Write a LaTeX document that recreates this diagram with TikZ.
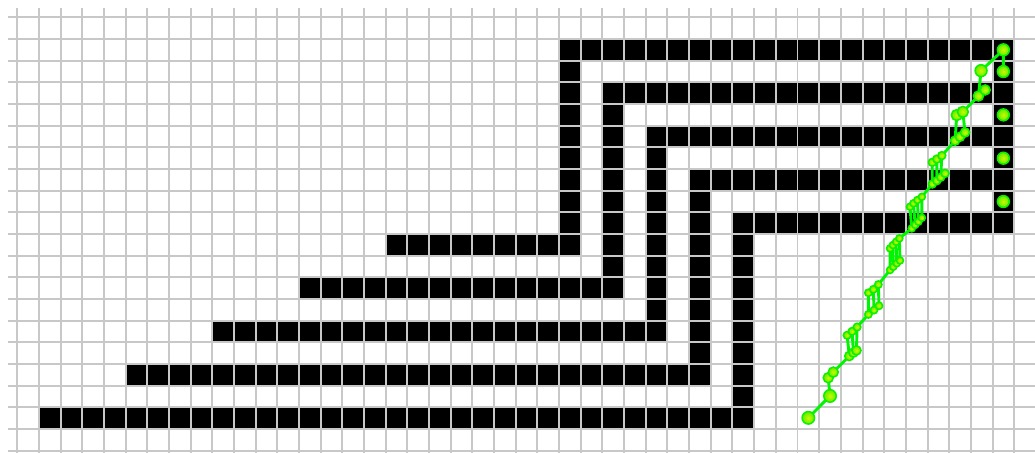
\documentclass[tikz,border=0pt]{standalone}
\definecolor{gridgray}{RGB}{200,200,200}
\definecolor{raygreen}{RGB}{0,245,0}
\definecolor{dotin}{RGB}{200,250,0}
\definecolor{dotout}{RGB}{100,235,0}
\definecolor{dotring}{RGB}{10,240,0}
\begin{document}
\begin{tikzpicture}[x=0.5cm,y=-0.5cm,
  gridline/.style={draw=gridgray,line width=1.3pt},
  cellfill/.style={fill=black},
  ray/.style={draw=raygreen,line width=1.9pt,line join=round,line cap=round},
  dotmark/.style={inner color=dotin,outer color=dotout,draw=dotring,line width=1pt}]
\useasboundingbox (-0.8,-0.8) rectangle (46.96,20.1);
\clip (-0.8,-0.8) rectangle (46.96,20.1);
% black cells
\foreach \k in {0,...,4}{
  \fill[cellfill] ({25+2*\k},{1+2*\k}) rectangle (46,{2+2*\k});
  \fill[cellfill] ({25+2*\k},{1+2*\k}) rectangle ({26+2*\k},{11+2*\k});
  \fill[cellfill] ({17-4*\k},{10+2*\k}) rectangle ({26+2*\k},{11+2*\k});
}
\fill[cellfill] (45,1) rectangle (46,10);
% grid
\foreach \i in {0,...,46} \draw[gridline] (\i,-0.43) -- (\i,21);
\foreach \j in {0,...,20} \draw[gridline] (-0.43,\j) -- (48,\j);
% ray points
\foreach \n/\x/\y in {a1/36.5/18.48, a2/37.5/17.47, a3/37.42/16.63, a4/37.65/16.37,
  c2b1/38.39/15.63, c2b2/38.58/15.47, c2b3/38.72/15.37, c2t1/38.29/14.67, c2t2/38.52/14.49, c2t3/38.75/14.29,
  c3b1/39.27/13.71, c3b2/39.53/13.51, c3b3/39.76/13.31, c3t1/39.27/12.71, c3t2/39.5/12.55, c3t3/39.73/12.33,
  c4b1/40.27/11.66, c4b2/40.42/11.51, c4b3/40.58/11.35, c4b4/40.73/11.22, c4t1/40.27/10.66, c4t2/40.4/10.51, c4t3/40.55/10.36, c4t4/40.7/10.2,
  c5b1/41.27/9.74, c5b2/41.43/9.58, c5b3/41.58/9.43, c5b4/41.74/9.25, c5t1/41.19/8.74, c5t2/41.35/8.58, c5t3/41.53/8.43, c5t4/41.74/8.28,
  c6b1/42.22/7.69, c6b2/42.43/7.54, c6b3/42.61/7.38, c6b4/42.81/7.2, c6t1/42.22/6.69, c6t2/42.43/6.54, c6t3/42.66/6.38,
  c7b1/43.27/5.69, c7b2/43.5/5.51, c7b3/43.73/5.31, c7t1/43.35/4.51, c7t2/43.63/4.36,
  c8b1/44.35/3.63, c8b2/44.66/3.35, c8t1/44.47/2.46,
  e1/45.5/1.5, e2/45.5/2.5, e3/45.5/4.5, e4/45.5/6.5, e5/45.5/8.5}
  \coordinate (\n) at (\x,\y);
% connectors
\draw[ray] (a1) -- (a2) -- (a3) -- (a4) -- (c2b1) -- (c2b2) -- (c2b3);
\draw[ray] (c2t1) -- (c2t2) -- (c2t3) -- (c3b1) -- (c3b2) -- (c3b3);
\draw[ray] (c2b1) -- (c2t1) (c2b2) -- (c2t2) (c2b3) -- (c2t3);
\draw[ray] (c3t1) -- (c3t2) -- (c3t3) -- (c4b1) -- (c4b2) -- (c4b3) -- (c4b4);
\draw[ray] (c3b1) -- (c3t1) (c3b2) -- (c3t2) (c3b3) -- (c3t3);
\draw[ray] (c4t1) -- (c4t2) -- (c4t3) -- (c4t4) -- (c5b1) -- (c5b2) -- (c5b3) -- (c5b4);
\draw[ray] (c4b1) -- (c4t1) (c4b2) -- (c4t2) (c4b3) -- (c4t3) (c4b4) -- (c4t4);
\draw[ray] (c5t1) -- (c5t2) -- (c5t3) -- (c5t4) -- (c6b1) -- (c6b2) -- (c6b3) -- (c6b4);
\draw[ray] (c5b1) -- (c5t1) (c5b2) -- (c5t2) (c5b3) -- (c5t3) (c5b4) -- (c5t4);
\draw[ray] (c6t1) -- (c6t2) -- (c6t3) -- (c7b1) -- (c7b2) -- (c7b3);
\draw[ray] (c6b1) -- (c6t1) (c6b2) -- (c6t2) (c6b3) -- (c6t3);
\draw[ray] (c7t1) -- (c7t2) -- (c8b1) -- (c8b2);
\draw[ray] (c7b1) -- (c7t1) (c7b3) -- (c7t2);
\draw[ray] (c8b1) -- (c8t1) -- (e1) -- (e2);
% dots
\foreach \n/\r in {a1/4.1, a2/4.1, a3/3.3, a4/3.3,
  c2b1/3.0, c2b2/3.0, c2b3/3.0, c2t1/2.5, c2t2/2.5, c2t3/2.5,
  c3b1/2.4, c3b2/2.4, c3b3/2.4, c3t1/2.4, c3t2/2.4, c3t3/2.4,
  c4b1/2.3, c4b2/2.3, c4b3/2.3, c4b4/2.3, c4t1/2.3, c4t2/2.3, c4t3/2.3, c4t4/2.3,
  c5b1/2.3, c5b2/2.3, c5b3/2.3, c5b4/2.3, c5t1/2.3, c5t2/2.3, c5t3/2.3, c5t4/2.3,
  c6b1/2.6, c6b2/2.6, c6b3/2.6, c6b4/2.6, c6t1/2.6, c6t2/2.6, c6t3/2.6,
  c7b1/3.0, c7b2/3.0, c7b3/3.0, c7t1/3.6, c7t2/3.6,
  c8b1/3.3, c8b2/3.3, c8t1/3.9,
  e1/3.9, e2/3.9, e3/3.9, e4/3.9, e5/3.9}
  \path[dotmark] (\n) circle[radius=\r pt];
\end{tikzpicture}
\end{document}
